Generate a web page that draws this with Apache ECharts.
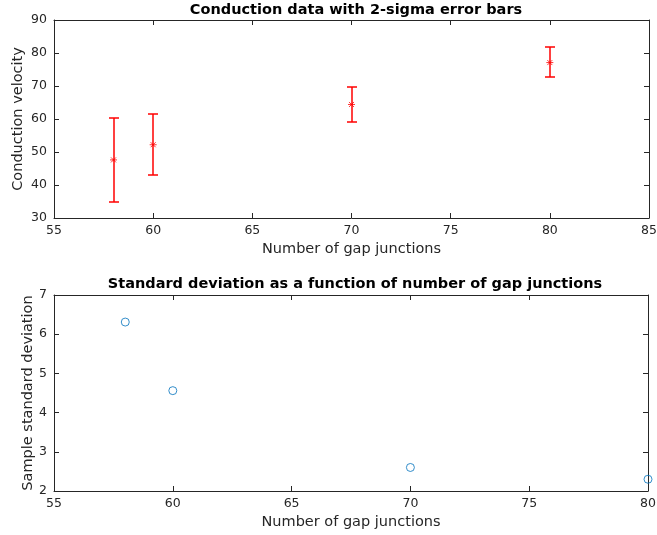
<!DOCTYPE html>
<html><head><meta charset="utf-8">
<script src="https://cdn.jsdelivr.net/npm/echarts@6/dist/echarts.min.js"></script>
<style>html,body{margin:0;padding:0;background:#fff}#c{width:657px;height:535px}</style>
</head><body><div id="c"></div>
<script>
var junctions = [58, 60, 70, 80];
var meanVelocity = [47.6, 52.2, 64.4, 77.1];
var lowerBar = [35.0, 43.1, 59.2, 72.6];
var upperBar = [60.2, 61.4, 69.6, 81.7];
var sampleStd = [6.31, 4.56, 2.6, 2.3];
var topXTicks = [55, 60, 65, 70, 75, 80, 85];
var topYTicks = [30, 40, 50, 60, 70, 80, 90];
var botXTicks = [55, 60, 65, 70, 75, 80];
var botYTicks = [2, 3, 4, 5, 6, 7];

var txt = '#262626', ax = '#262626';
var font = 'DejaVu Sans';
function xa(grid, ticks, pos, show, name) {
  return {type:'value', gridIndex:grid, position:pos, min:ticks[0], max:ticks[ticks.length-1],
    interval:ticks[1]-ticks[0],
    axisLine:{show:true, onZero:false, lineStyle:{color:ax, width:1}},
    axisTick:{show:true, inside:true, length:5, lineStyle:{color:ax}},
    axisLabel:{show:show, color:txt, fontFamily:font, fontSize:12.5, margin:6},
    splitLine:{show:false},
    name: name||'', nameLocation:'middle', nameGap:24,
    nameTextStyle:{color:txt, fontFamily:font, fontSize:14.5}};
}
function ya(grid, ticks, pos, show, name, gap) {
  return {type:'value', gridIndex:grid, position:pos, min:ticks[0], max:ticks[ticks.length-1],
    interval:ticks[1]-ticks[0],
    axisLine:{show:true, onZero:false, lineStyle:{color:ax, width:1}},
    axisTick:{show:true, inside:true, length:5, lineStyle:{color:ax}},
    axisLabel:{show:show, color:txt, fontFamily:font, fontSize:12.5, margin:7},
    splitLine:{show:false},
    name: name||'', nameLocation:'middle', nameGap:gap||28, nameMoveOverlap:false,
    nameTextStyle:{color:txt, fontFamily:font, fontSize:14.5}};
}
var errData = junctions.map(function(x,i){return [x, meanVelocity[i], lowerBar[i], upperBar[i]];});
var red = '#ff0000';
var chart = echarts.init(document.getElementById('c'));
chart.setOption({
  animation:false,
  title:[
    {text:'Conduction data with 2-sigma error bars', left:351, top:-2, textAlign:'center',
     textStyle:{fontFamily:font, fontSize:14.5, fontWeight:'bold', color:'#000'}},
    {text:'Standard deviation as a function of number of gap junctions', left:350, top:272, textAlign:'center',
     textStyle:{fontFamily:font, fontSize:14.5, fontWeight:'bold', color:'#000'}}
  ],
  grid:[
    {left:54, right:8, top:20, height:198, outerBoundsMode:'none', containLabel:false},
    {left:54, right:9, top:295, height:196, outerBoundsMode:'none', containLabel:false}
  ],
  xAxis:[
    xa(0, topXTicks, 'bottom', true, 'Number of gap junctions'),
    xa(0, topXTicks, 'top', false),
    xa(1, botXTicks, 'bottom', true, 'Number of gap junctions'),
    xa(1, botXTicks, 'top', false)
  ],
  yAxis:[
    ya(0, topYTicks, 'left', true, 'Conduction velocity', 28),
    ya(0, topYTicks, 'right', false),
    ya(1, botYTicks, 'left', true, 'Sample standard deviation', 18),
    ya(1, botYTicks, 'right', false)
  ],
  series:[
    {type:'custom', xAxisIndex:0, yAxisIndex:0, data:errData, clip:false,
     renderItem:function(params, api){
       var x = api.value(0);
       var p = api.coord([x, api.value(1)]);
       var lo = api.coord([x, api.value(2)]);
       var hi = api.coord([x, api.value(3)]);
       var cx = Math.round(lo[0]);
       var ly = Math.round(lo[1]), hy = Math.round(hi[1]);
       var cw = 5, s = 3.5, sd = 2.5;
       var st = {stroke:red, lineWidth:1.5, fill:null};
       var ms = {stroke:red, lineWidth:0.8};
       return {type:'group', children:[
         {type:'line', shape:{x1:cx, y1:ly, x2:cx, y2:hy}, style:st},
         {type:'line', shape:{x1:cx-cw, y1:ly, x2:cx+cw, y2:ly}, style:st},
         {type:'line', shape:{x1:cx-cw, y1:hy, x2:cx+cw, y2:hy}, style:st},
         {type:'line', shape:{x1:p[0]-s, y1:p[1], x2:p[0]+s, y2:p[1]}, style:ms},
         {type:'line', shape:{x1:p[0]-sd, y1:p[1]-sd, x2:p[0]+sd, y2:p[1]+sd}, style:ms},
         {type:'line', shape:{x1:p[0]-sd, y1:p[1]+sd, x2:p[0]+sd, y2:p[1]-sd}, style:ms}
       ]};
     }},
    {type:'scatter', xAxisIndex:2, yAxisIndex:2, clip:false,
     data: junctions.map(function(x,i){return [x, sampleStd[i]];}),
     symbol:'circle', symbolSize:8,
     itemStyle:{color:'rgba(0,0,0,0)', borderColor:'#0072BD', borderWidth:1}}
  ]
});
</script></body></html>
